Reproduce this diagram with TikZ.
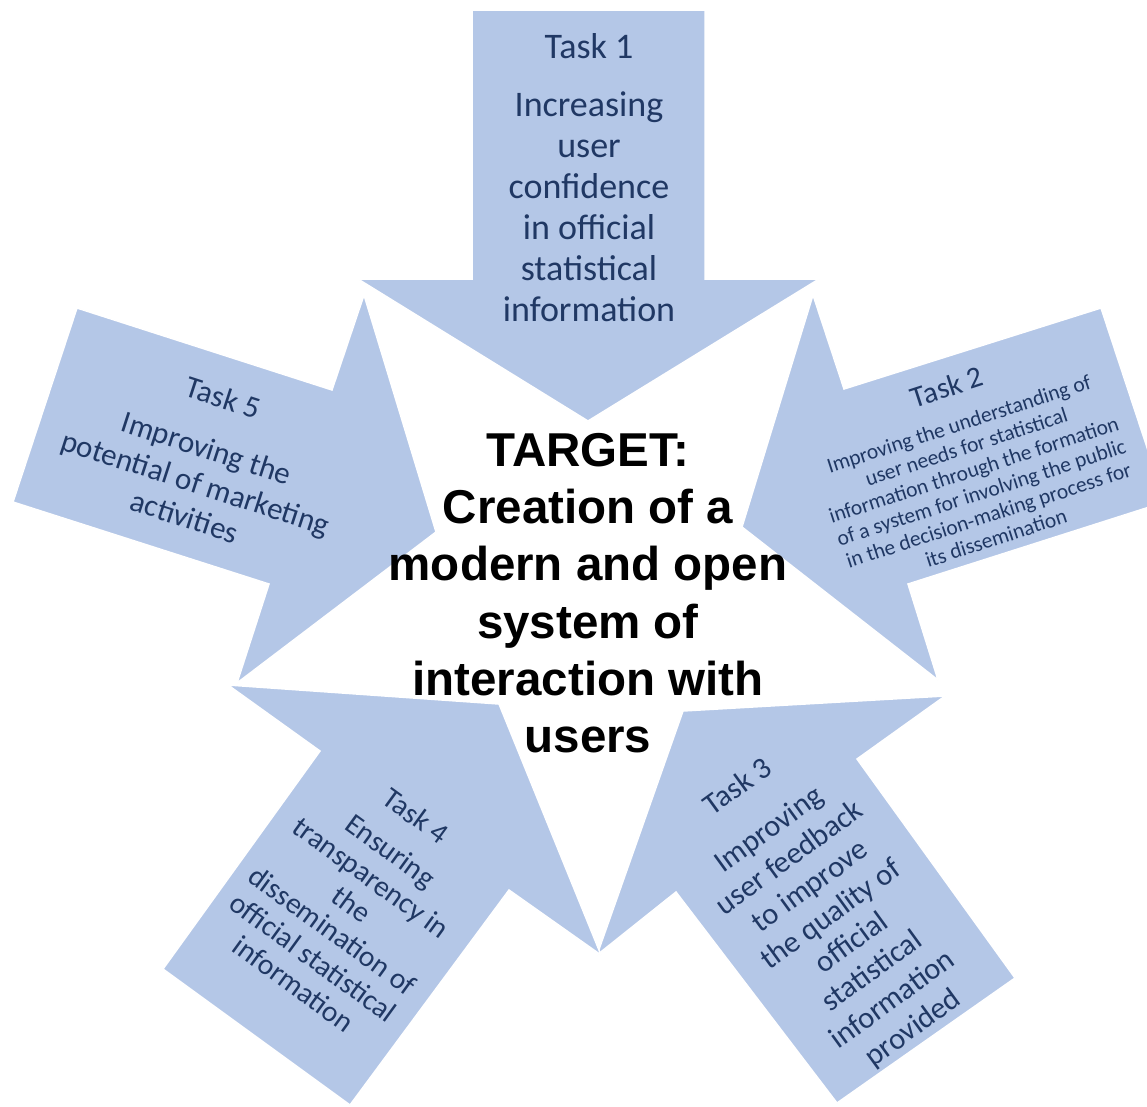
\documentclass[tikz,border=0pt]{standalone}
\usepackage{fontspec}
\setmainfont{Carlito}
\newfontfamily\targetfont{Liberation Sans}
\definecolor{arrowblue}{HTML}{B4C7E7}
\definecolor{taskblue}{HTML}{203864}

\begin{document}
\begin{tikzpicture}[x=1pt,y=-1pt,
  taskarrow/.style={fill=arrowblue, draw=white, line width=1.5pt},
  tasklabel/.style={text=taskblue, align=center, inner sep=0pt}]

\useasboundingbox (0,0) rectangle (1147,1106);
\clip (0,0) rectangle (1147,1106);

%arrows
\filldraw[taskarrow] (472,10) -- (705,10) -- (705,279) -- (819,279) -- (588,421) -- (358,279) -- (472,279) -- cycle;
\filldraw[taskarrow] (1101,308) -- (844,389) -- (813,295) -- (742,527) -- (938,680) -- (908,584) -- (1165,502) -- cycle;
\filldraw[taskarrow] (1015,978) -- (857,759) -- (945,696) -- (683,711) -- (597,955) -- (676,892) -- (837,1103) -- cycle;
\filldraw[taskarrow] (163,969) -- (320,751) -- (228,685) -- (499,704) -- (601,955) -- (509,890) -- (350,1105) -- cycle;
\filldraw[taskarrow] (77,308) -- (332,390) -- (364,295) -- (436,532) -- (237,683) -- (269,584) -- (13,502) -- cycle;

%task texts
\node[tasklabel, font=\fontsize{36}{41}\selectfont] (t1) at (589,178)
  {Task 1\\[17pt]Increasing\\user\\confidence\\in official\\statistical\\information};
\node[tasklabel, font=\fontsize{21.5}{24}\selectfont, rotate=18] (t2) at (971,461)
  {{\fontsize{30}{30}\selectfont Task 2}\\[12pt]Improving the understanding of\\user needs for statistical\\information through the formation\\of a system for involving the public\\in the decision-making process for\\its dissemination};
\node[tasklabel, font=\fontsize{30.5}{35}\selectfont, rotate=36] (t3) at (826,908)
  {Task 3\\[18pt]Improving\\user feedback\\to improve\\the quality of\\official\\statistical\\information\\provided};
\node[tasklabel, font=\fontsize{29.5}{33}\selectfont, rotate=-36] (t4) at (355,900)
  {Task 4\\[10pt]Ensuring\\transparency in\\the\\dissemination of\\official statistical\\information};
\node[tasklabel, font=\fontsize{31}{36}\selectfont, rotate=-18] (t5) at (204,457)
  {Task 5\\[17pt]Improving the\\potential of marketing\\activities};

%target
\node[align=center, inner sep=0pt, font=\targetfont\bfseries\fontsize{47.5}{57.3}\selectfont] (target) at (588,593)
  {TARGET:\\Creation of a\\modern and open\\system of\\interaction with\\users};

\end{tikzpicture}
\end{document}
